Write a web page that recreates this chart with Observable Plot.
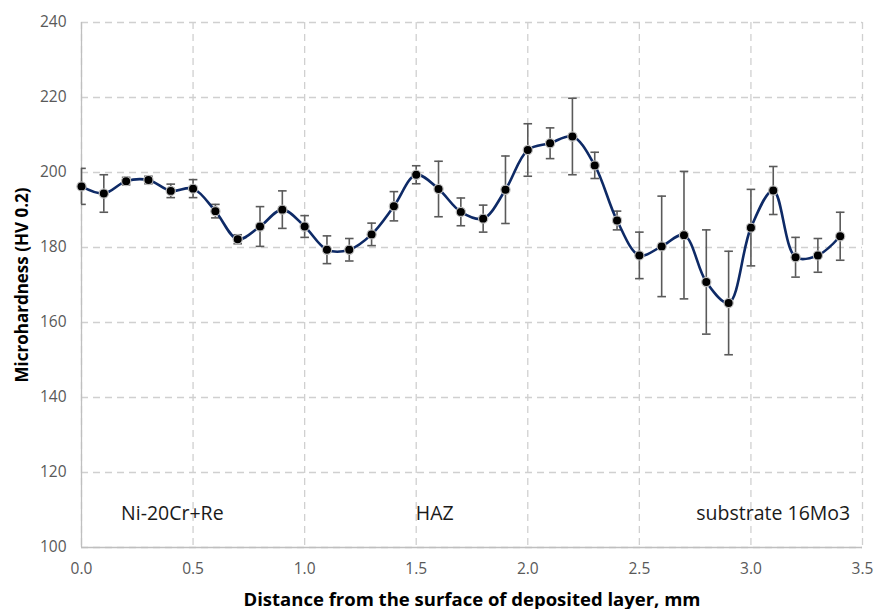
<!DOCTYPE html>
<html>
<head>
<meta charset="utf-8">
<script src="https://cdn.jsdelivr.net/npm/d3@7"></script>
<script src="https://cdn.jsdelivr.net/npm/@observablehq/plot@0.6"></script>
<style>
  html, body { margin: 0; padding: 0; background: #fff; }
  #chart svg { display: block; }
</style>
</head>
<body>
<div id="chart"></div>
<script>
// Microhardness profile across the deposited layer, HAZ and substrate
const distance = [0.0, 0.1, 0.2, 0.3, 0.4, 0.5, 0.6, 0.7, 0.8, 0.9,
                  1.0, 1.1, 1.2, 1.3, 1.4, 1.5, 1.6, 1.7, 1.8, 1.9,
                  2.0, 2.1, 2.2, 2.3, 2.4, 2.5, 2.6, 2.7, 2.8, 2.9,
                  3.0, 3.1, 3.2, 3.3, 3.4];
const hardness = [196.3, 194.4, 197.7, 198.0, 195.1, 195.7, 189.7, 182.2, 185.6, 190.1,
                  185.6, 179.4, 179.4, 183.5, 191.0, 199.4, 195.6, 189.5, 187.7, 195.4,
                  206.0, 207.8, 209.6, 201.9, 187.2, 177.9, 180.3, 183.3, 170.8, 165.2,
                  185.3, 195.2, 177.4, 177.9, 183.0];
const deviation = [4.8, 5.0, 1.0, 1.0, 1.8, 2.4, 1.8, 1.2, 5.3, 5.0,
                   2.9, 3.7, 3.0, 3.0, 3.9, 2.4, 7.4, 3.7, 3.6, 9.0,
                   7.0, 4.1, 10.2, 3.5, 2.5, 6.2, 13.4, 17.0, 13.9, 13.8,
                   10.2, 6.4, 5.3, 4.5, 6.4];

const zoneLabels = ["Ni-20Cr+Re", "HAZ", "substrate 16Mo3"];
const zoneX = [0.407, 1.583, 3.1];
const zoneY = [109, 109, 109];

const yTicks = [100, 120, 140, 160, 180, 200, 220, 240];
const xTicks = [0.0, 0.5, 1.0, 1.5, 2.0, 2.5, 3.0, 3.5];

const rows = distance.map((d, i) => ({
  x: d, y: hardness[i], lo: hardness[i] - deviation[i], hi: hardness[i] + deviation[i]
}));
const zones = zoneLabels.map((t, i) => ({text: t, x: zoneX[i], y: zoneY[i]}));

// horizontal bar used as the error-bar cap
const capSymbol = {
  draw(context, size) {
    const w = Math.sqrt(size / Math.PI);
    context.moveTo(-w, 0);
    context.lineTo(w, 0);
  }
};

const font = "'Open Sans', Lato, sans-serif";

const chart = Plot.plot({
  width: 874,
  height: 609,
  marginLeft: 81,
  marginRight: 12,
  marginTop: 22,
  marginBottom: 62,
  style: {fontFamily: font, fontSize: "15px", color: "#595959", background: "#fff"},
  x: {domain: [0, 3.5], ticks: xTicks, tickFormat: d3.format(".1f")},
  y: {domain: [100, 240], ticks: yTicks},
  marks: [
    Plot.gridX(xTicks, {stroke: "#d0d0d0", strokeOpacity: 1, strokeDasharray: "7,5", strokeWidth: 1.3}),
    Plot.gridY(yTicks, {stroke: "#d0d0d0", strokeOpacity: 1, strokeDasharray: "7,5", strokeWidth: 1.3}),
    Plot.ruleY([100], {stroke: "#bfbfbf", strokeWidth: 1.3}),
    Plot.ruleX([0], {stroke: "#bfbfbf", strokeWidth: 1.3}),
    Plot.axisX({ticks: xTicks, tickFormat: d3.format(".1f"), tickSize: 0, tickPadding: 15,
      fill: "#595959", fontSize: 15.5,
      label: "Distance from the surface of deposited layer, mm", labelAnchor: "center",
      labelArrow: "none", labelOffset: 58}),
    Plot.axisY({ticks: yTicks, tickSize: 0, tickPadding: 15, fill: "#595959", fontSize: 15.5,
      label: "Microhardness (HV 0.2)", labelAnchor: "center", labelArrow: "none", labelOffset: 66}),
    Plot.ruleX(rows, {x: "x", y1: "lo", y2: "hi", stroke: "#5a5a5a", strokeWidth: 1.6}),
    Plot.dot(rows, {x: "x", y: "lo", symbol: capSymbol, r: 4.3, stroke: "#5a5a5a", strokeWidth: 1.6, clip: true}),
    Plot.dot(rows, {x: "x", y: "hi", symbol: capSymbol, r: 4.3, stroke: "#5a5a5a", strokeWidth: 1.6, clip: true}),
    Plot.line(rows, {x: "x", y: "y", curve: "catmull-rom", stroke: "#0e2a66", strokeWidth: 2.6}),
    Plot.dot(rows, {x: "x", y: "y", r: 4.6, fill: "#000", stroke: "#bdbdbd", strokeWidth: 1.2}),
    Plot.text(zones, {x: "x", y: "y", text: "text", fill: "#1a1a1a", fontSize: 19.5})
  ]
});

// bold black axis titles
d3.select(chart).selectAll("[aria-label='x-axis label'] text")
  .attr("font-weight", "bold").attr("fill", "#000").attr("font-size", 18.5);
d3.select(chart).selectAll("[aria-label='y-axis label'] text")
  .attr("font-weight", "bold").attr("fill", "#000").attr("font-size", 17);

document.getElementById("chart").appendChild(chart);
</script>
</body>
</html>
